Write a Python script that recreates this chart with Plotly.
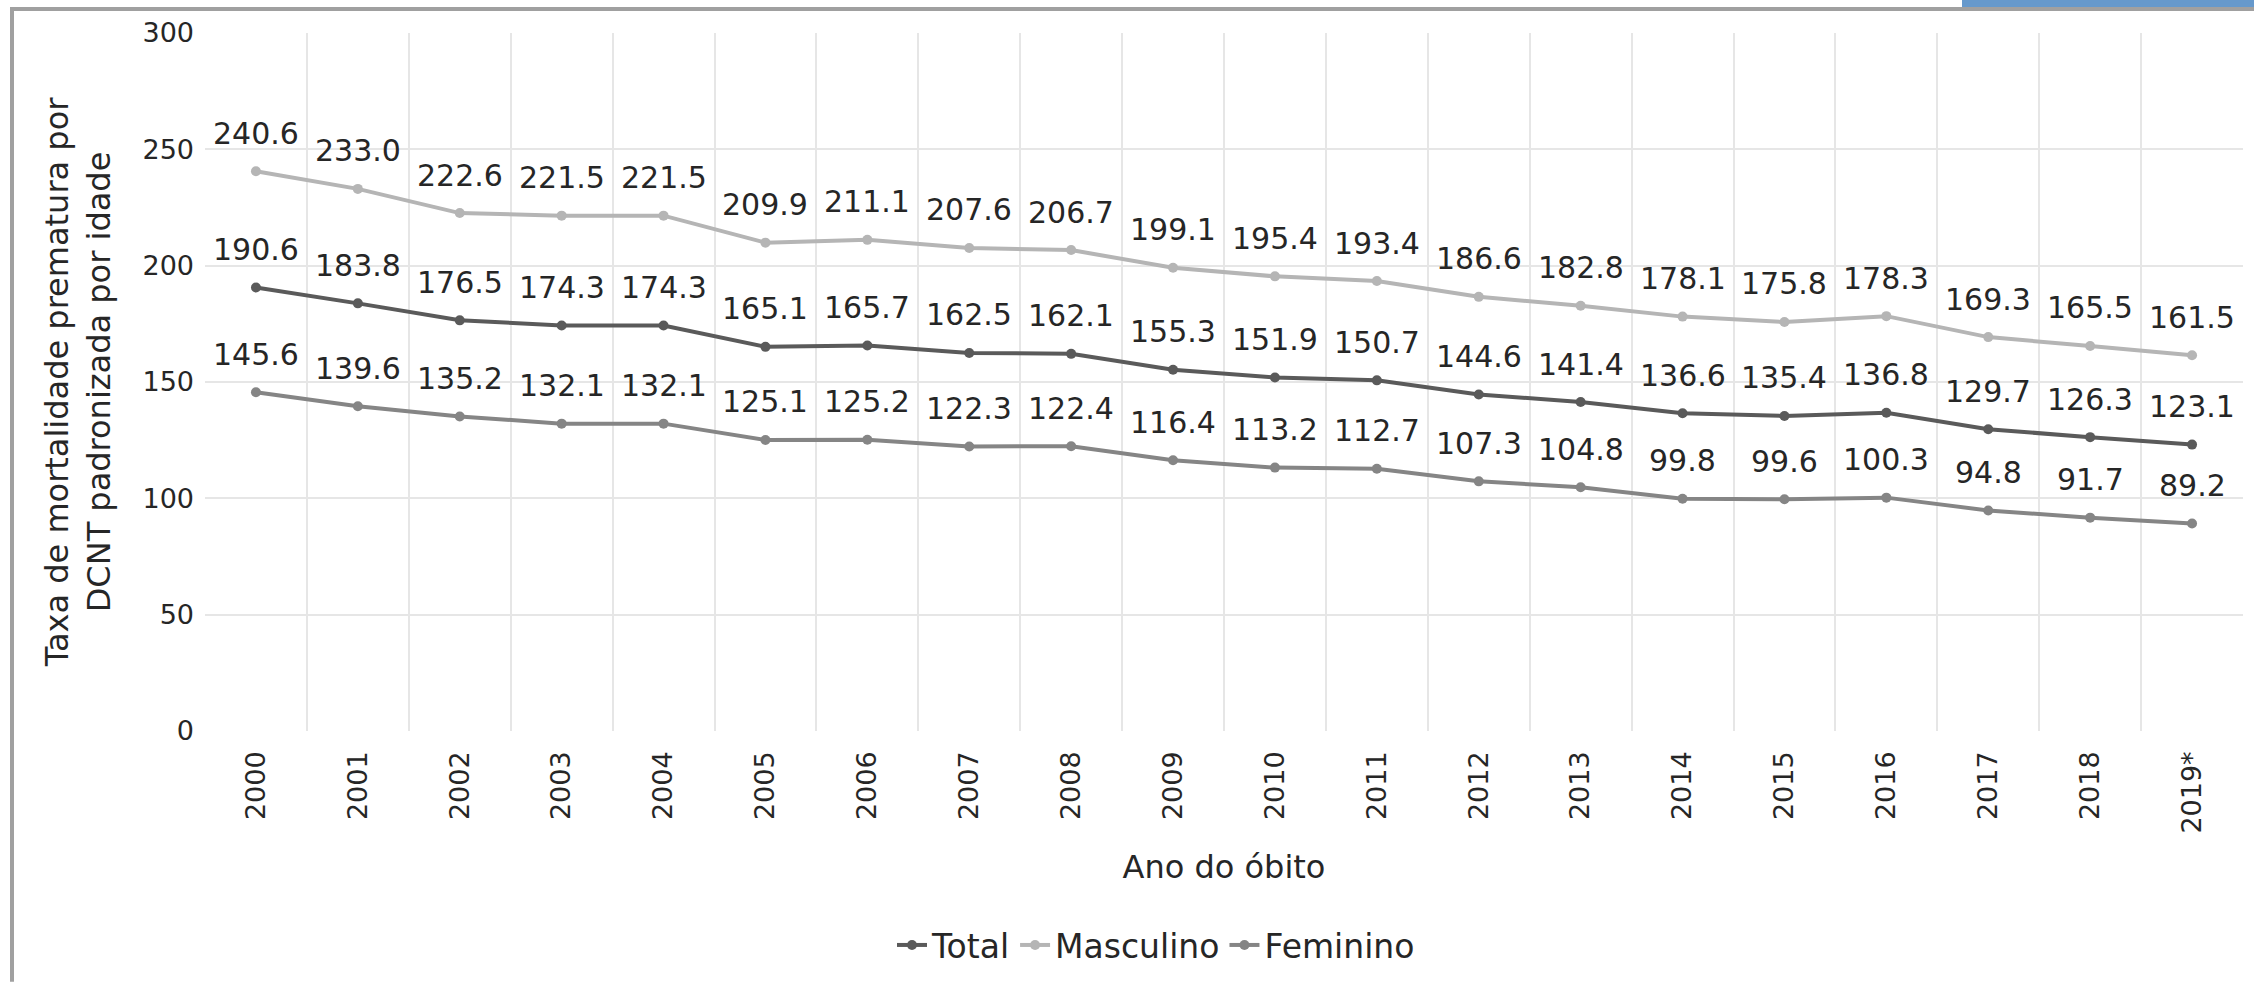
import plotly.graph_objects as go

anos = ["2000", "2001", "2002", "2003", "2004", "2005", "2006", "2007", "2008", "2009",
        "2010", "2011", "2012", "2013", "2014", "2015", "2016", "2017", "2018", "2019*"]

total = [190.6, 183.8, 176.5, 174.3, 174.3, 165.1, 165.7, 162.5, 162.1, 155.3,
         151.9, 150.7, 144.6, 141.4, 136.6, 135.4, 136.8, 129.7, 126.3, 123.1]
masculino = [240.6, 233.0, 222.6, 221.5, 221.5, 209.9, 211.1, 207.6, 206.7, 199.1,
             195.4, 193.4, 186.6, 182.8, 178.1, 175.8, 178.3, 169.3, 165.5, 161.5]
feminino = [145.6, 139.6, 135.2, 132.1, 132.1, 125.1, 125.2, 122.3, 122.4, 116.4,
            113.2, 112.7, 107.3, 104.8, 99.8, 99.6, 100.3, 94.8, 91.7, 89.2]

series = [
    ("Total", total, "#5a5a5a"),
    ("Masculino", masculino, "#b5b5b5"),
    ("Feminino", feminino, "#858585"),
]

FONT = "DejaVu Sans"
TEXT = "#262626"

# plot-area geometry in pixels (used for the frame and corner strip)
W, H = 2254, 983
ML, MR, MT, MB = 205, 11, 33, 251
PW, PH = W - ML - MR, H - MT - MB


def px_x(px):
    return (px - ML) / PW


def px_y(py):
    return (H - MB - py) / PH


fig = go.Figure()
annotations = []
for nome, valores, cor in series:
    fig.add_trace(go.Scatter(
        x=anos, y=valores, name=nome, mode="lines+markers",
        line=dict(color=cor, width=4),
        marker=dict(color=cor, size=10, symbol="circle"),
    ))
    # value labels above every point (x given as category index)
    for i, v in enumerate(valores):
        annotations.append(dict(
            x=i, y=v, xref="x", yref="y", text=f"{v:.1f}", showarrow=False,
            yshift=38, font=dict(family=FONT, size=30, color=TEXT),
        ))

fig.update_layout(
    width=W, height=H,
    margin=dict(l=ML, r=MR, t=MT, b=MB),
    paper_bgcolor="white", plot_bgcolor="white",
    font=dict(family=FONT, color=TEXT),
    annotations=annotations,
    showlegend=True,
    legend=dict(
        orientation="h", x=px_x(1156), xanchor="center", y=px_y(945),
        yanchor="middle", font=dict(family=FONT, size=33, color=TEXT),
        itemwidth=30, tracegroupgap=0,
    ),
    shapes=[
        # outer frame
        dict(type="line", xref="paper", yref="paper", x0=px_x(12), x1=px_x(12),
             y0=px_y(H), y1=px_y(8), line=dict(color="#a0a0a0", width=4)),
        dict(type="line", xref="paper", yref="paper", x0=px_x(10), x1=px_x(W),
             y0=px_y(9), y1=px_y(9), line=dict(color="#a0a0a0", width=4)),
        # blue strip in the top-right corner
        dict(type="rect", xref="paper", yref="paper", x0=px_x(1962), x1=px_x(W),
             y0=px_y(7), y1=px_y(0), fillcolor="#6699cc", line=dict(width=0)),
    ],
)

fig.update_xaxes(
    type="category", tickson="boundaries", showgrid=True, gridcolor="#e6e6e6", gridwidth=2,
    tickangle=-90, tickfont=dict(family=FONT, size=27, color=TEXT),
    ticks="", ticklabelstandoff=14, showline=False, zeroline=False,
    title=dict(text="Ano do óbito", font=dict(family=FONT, size=32, color=TEXT), standoff=22),
    range=[-0.5, 19.5],
)
fig.update_yaxes(
    range=[0, 300], dtick=50, showgrid=True, gridcolor="#e6e6e6", gridwidth=2,
    zeroline=False, showline=False, ticks="",
    tickfont=dict(family=FONT, size=27, color=TEXT), ticklabelstandoff=10,
    title=dict(text="Taxa de mortalidade prematura por<br>DCNT padronizada por idade",
               font=dict(family=FONT, size=32, color=TEXT), standoff=22),
)

fig.write_html("out.html")
